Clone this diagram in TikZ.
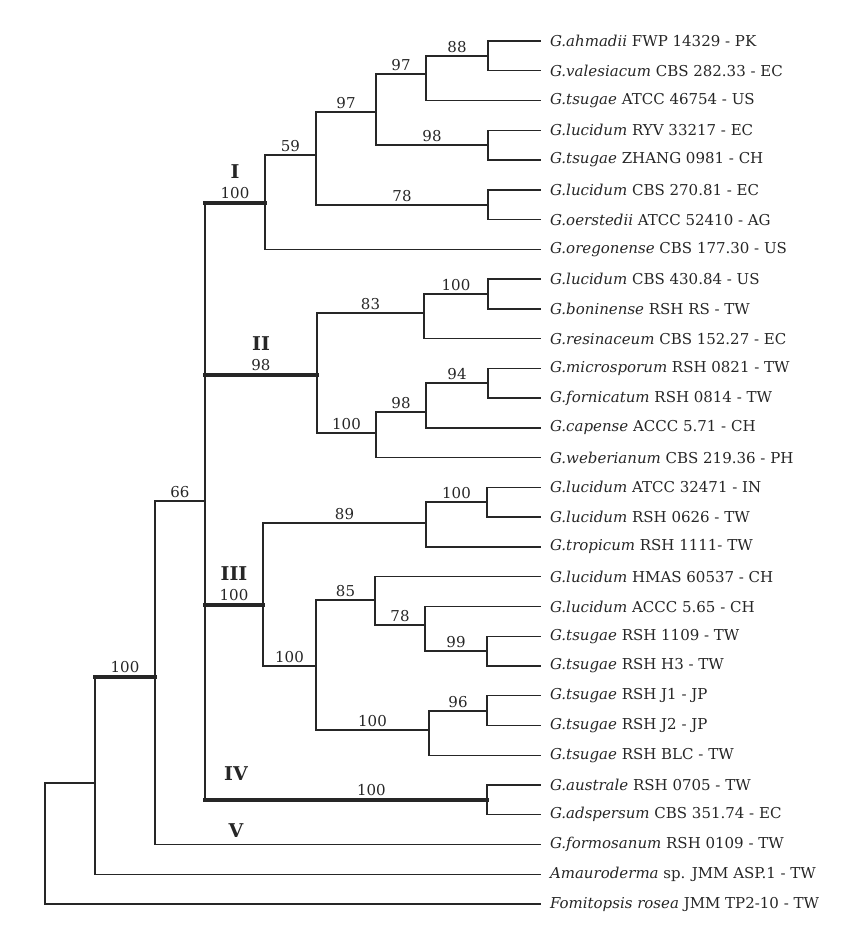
\documentclass[tikz,border=0pt]{standalone}
\usepackage{fontspec}
\setmainfont{DejaVu Serif}
\usetikzlibrary{positioning}
\begin{document}
\begin{tikzpicture}[x=1pt, y=-1pt, line width=1.4pt, color=black!85, line cap=rect,
    leaf/.style={anchor=west, inner sep=0pt, outer xsep=10pt, font=\fontsize{15}{17}\selectfont},
    boot/.style={anchor=south, inner sep=2.5pt, font=\fontsize{15}{17}\selectfont},
    clade/.style={inner sep=2pt, font=\bfseries\fontsize{19}{21}\selectfont},
    heavy/.style={line width=3.2pt}]
\useasboundingbox (0,0) rectangle (850,945);
% taxa
\foreach \t [count=\i from 0] in {
    \textit{G.ahmadii} FWP 14329 - PK,
    \textit{G.valesiacum} CBS 282.33 - EC,
    \textit{G.tsugae} ATCC 46754 - US,
    \textit{G.lucidum} RYV 33217 - EC,
    \textit{G.tsugae} ZHANG 0981 - CH,
    \textit{G.lucidum} CBS 270.81 - EC,
    \textit{G.oerstedii} ATCC 52410 - AG,
    \textit{G.oregonense} CBS 177.30 - US,
    \textit{G.lucidum} CBS 430.84 - US,
    \textit{G.boninense} RSH RS - TW,
    \textit{G.resinaceum} CBS 152.27 - EC,
    \textit{G.microsporum} RSH 0821 - TW,
    \textit{G.fornicatum} RSH 0814 - TW,
    \textit{G.capense} ACCC 5.71 - CH,
    \textit{G.weberianum} CBS 219.36 - PH,
    \textit{G.lucidum} ATCC 32471 - IN,
    \textit{G.lucidum} RSH 0626 - TW,
    \textit{G.tropicum} RSH 1111- TW,
    \textit{G.lucidum} HMAS 60537 - CH,
    \textit{G.lucidum} ACCC 5.65 - CH,
    \textit{G.tsugae} RSH 1109 - TW,
    \textit{G.tsugae} RSH H3 - TW,
    \textit{G.tsugae} RSH J1 - JP,
    \textit{G.tsugae} RSH J2 - JP,
    \textit{G.tsugae} RSH BLC - TW,
    \textit{G.australe} RSH 0705 - TW,
    \textit{G.adspersum} CBS 351.74 - EC,
    \textit{G.formosanum} RSH 0109 - TW,
    \textit{Amauroderma} sp. JMM ASP.1 - TW,
    \textit{Fomitopsis rosea} JMM TP2-10 - TW}
  \node[leaf] (l\i) at (540, 41+29.76*\i) {\t};
% clade I
\coordinate (n1a) at (488,56);
\coordinate (n1b) at (426,74);
\coordinate (n1c) at (488,145);
\coordinate (n1d) at (376,112);
\coordinate (n1e) at (488,205);
\coordinate (n1f) at (316,155);
\coordinate (cI) at (265,203);
% clade II
\coordinate (n2a) at (488,294);
\coordinate (n2b) at (424,313);
\coordinate (n2c) at (488,383);
\coordinate (n2d) at (426,412);
\coordinate (n2e) at (376,433);
\coordinate (cII) at (317,375);
% clade III
\coordinate (n3a) at (487,502);
\coordinate (n3b) at (426,523);
\coordinate (n3c) at (487,651);
\coordinate (n3d) at (425,625);
\coordinate (n3e) at (375,600);
\coordinate (n3f) at (487,711);
\coordinate (n3g) at (429,730);
\coordinate (n3h) at (316,666);
\coordinate (cIII) at (263,605);
% clade IV and backbone
\coordinate (cIV) at (487,800);
\coordinate (bb) at (205,501);
\coordinate (n66) at (155,677);
\coordinate (n95) at (95,783);
\coordinate (root) at (45,783);
% terminal branches
\foreach \c/\p in {l0/n1a, l1/n1a, l2/n1b, l3/n1c, l4/n1c, l5/n1e, l6/n1e, l7/cI,
    l8/n2a, l9/n2a, l10/n2b, l11/n2c, l12/n2c, l13/n2d, l14/n2e,
    l15/n3a, l16/n3a, l17/n3b, l18/n3e, l19/n3d, l20/n3c, l21/n3c,
    l22/n3f, l23/n3f, l24/n3g, l25/cIV, l26/cIV, l27/n66, l28/n95, l29/root}
  \draw (\c.west) -| (\p);
% inner branches with bootstrap values
\foreach \c/\p/\b in {n1a/n1b/88, n1b/n1d/97, n1c/n1d/98, n1d/n1f/97, n1e/n1f/78, n1f/cI/59,
    n2a/n2b/100, n2b/cII/83, n2c/n2d/94, n2d/n2e/98, n2e/cII/100,
    n3a/n3b/100, n3b/cIII/89, n3c/n3d/99, n3d/n3e/78, n3e/n3h/85,
    n3f/n3g/96, n3g/n3h/100, n3h/cIII/100, bb/n66/66}
  \draw (\c) -- node[boot]{\b} (\c -| \p) -- (\p);
\draw (n95) -- (root);
% main clades
\draw[heavy] (cI) -- node[boot] (bI) {100} (cI -| bb);
\draw[heavy] (cII) -- node[boot] (bII) {98} (cII -| bb);
\draw[heavy] (cIII) -- node[boot] (bIII) {100} (cIII -| bb);
\draw[heavy] (cIV) -- node[boot, pos=0.41] (bIV) {100} (cIV -| bb);
\draw[heavy] (n66) -- node[boot] (b66) {100} (n66 -| n95);
\draw (cI -| bb) -- (bb) -- (cIV -| bb);
\draw (n66 -| n95) -- (n95);
\node[clade, above=2pt of bI] {I};
\node[clade, above=2pt of bII] {II};
\node[clade, above=2pt of bIII] {III};
\node[clade, anchor=south] at (236,783) {IV};
\node[clade, anchor=south] at (236,840) {V};
\end{tikzpicture}
\end{document}
